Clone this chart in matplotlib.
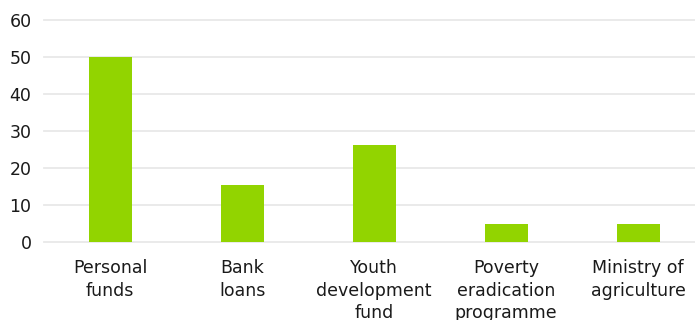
import matplotlib
matplotlib.use("Agg")
import matplotlib.pyplot as plt
import numpy as np

categories = ["Personal\nfunds", "Bank\nloans", "Youth\ndevelopment\nfund",
              "Poverty\neradication\nprogramme", "Ministry of\nagriculture"]
values = [50, 15.5, 26.2, 5, 5]
yticks = [0, 10, 20, 30, 40, 50, 60]

plt.rcParams["font.family"] = ["DejaVu Sans"]

fig = plt.figure(figsize=(6.95, 3.2), dpi=100)
ax = fig.add_axes([44 / 695, 1 - 242 / 320, 1 - 44 / 695, 222 / 320])

x = np.arange(len(categories))
ax.bar(x, values, width=43 / 132, color="#92d400", zorder=3)

ax.set_ylim(0, 60)
ax.set_xlim(-0.5, 4.43)
ax.set_yticks(yticks)
ax.set_xticks(x)
ax.set_xticklabels(categories, fontsize=12.5, color="#1a1a1a", linespacing=1.32)
ax.tick_params(axis="y", labelsize=12.5, labelcolor="#1a1a1a", length=0, pad=9)
ax.tick_params(axis="x", length=0, pad=12.5)
ax.grid(axis="y", color="#e8e8e8", linewidth=1.3, zorder=0)
for gl in ax.get_ygridlines():
    gl.set_clip_on(False)
for s in ax.spines.values():
    s.set_visible(False)

fig.savefig("out.png", dpi=100)
